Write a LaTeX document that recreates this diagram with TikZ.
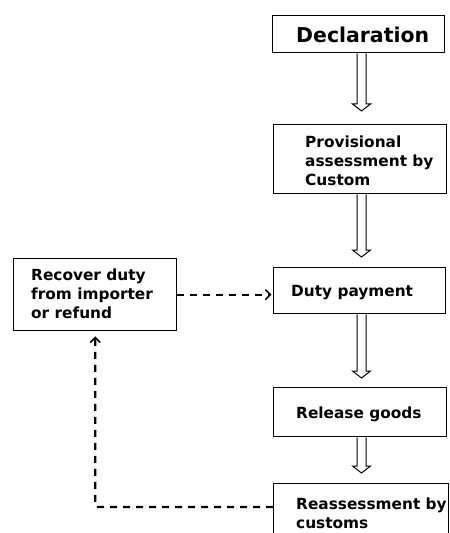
\documentclass[tikz,border=0pt]{standalone}
\usepackage{fontspec}
\setmainfont{DejaVu Sans}
\usetikzlibrary{arrows.meta,calc}
\begin{document}
\begin{tikzpicture}[x=1bp,y=-1bp,
  box/.style={draw, line width=1.4bp, inner sep=0pt, anchor=north west},
  txt/.style={inner sep=0pt, anchor=west, align=left,
    font=\bfseries\fontsize{15.4}{19}\selectfont},
  bigtxt/.style={inner sep=0pt, anchor=west,
    font=\bfseries\fontsize{20.5}{24}\selectfont},
  hollow/.style={line width=1bp, to path={
    ($(\tikztostart)+(-4.5,0)$) -- ($(\tikztotarget)+(-4.5,-7)$)
    -- ($(\tikztotarget)+(-9,-7)$) -- (\tikztotarget)
    -- ($(\tikztotarget)+(9,-7)$) -- ($(\tikztotarget)+(4.5,-7)$)
    -- ($(\tikztostart)+(4.5,0)$)}},
  dashline/.style={line width=2.4bp, dash pattern=on 7bp off 6bp},
  barb/.style={-{Straight Barb[length=5bp,width=10bp,line width=1.6bp]}}
]
\clip (0,0) rectangle (450,533);

% process column
\node[box, minimum width=172bp, minimum height=37bp] (dec)  at (272,15)  {};
\node[box, minimum width=173bp, minimum height=69bp] (prov) at (273,124) {};
\node[box, minimum width=172bp, minimum height=46bp] (duty) at (273,267) {};
\node[box, minimum width=173bp, minimum height=49bp] (rel)  at (273,387) {};
\node[box, minimum width=175bp, minimum height=70bp] (rea)  at (273,483) {};

% side box
\node[box, minimum width=163bp, minimum height=72bp] (rec) at (13,258) {};

% labels
\node[bigtxt] (tdec)  at ($(dec.west)+(24,1)$) {Declaration};
\node[txt]    (tprov) at ($(prov.west)+(32,1.5)$) {Provisional\\assessment by\\Custom};
\node[txt]    (tduty) at ($(duty.west)+(18,2)$) {Duty payment};
\node[txt]    (trel)  at ($(rel.west)+(23,2)$) {Release goods};
\node[txt]    (trea)  at ($(rea.north west)+(23,30)$) {Reassessment by\\customs};
\node[txt]    (trec)  at ($(rec.west)+(18,-1)$) {Recover duty\\from importer\\or refund};

% hollow arrows between the steps
\coordinate (ax) at (361.5,0);
\coordinate (a1s) at (dec.south -| ax);
\coordinate (a1e) at ($(prov.north -| ax)+(0,-13)$);
\coordinate (a2s) at (prov.south -| ax);
\coordinate (a2e) at ($(duty.north -| ax)+(0,-10)$);
\coordinate (a3s) at (duty.south -| ax);
\coordinate (a3e) at ($(rel.north -| ax)+(0,-9)$);
\coordinate (a4s) at (rel.south -| ax);
\coordinate (a4e) at ($(rea.north -| ax)+(0,-10)$);
\draw[hollow] (a1s) to (a1e);
\draw[hollow] (a2s) to (a2e);
\draw[hollow] (a3s) to (a3e);
\draw[hollow] (a4s) to (a4e);

% dashed feedback connectors
\draw[dashline, barb, shorten >=1.5bp] (rec.east) -- (rec.east -| duty.west);
\draw[dashline, barb, shorten >=5bp, rounded corners=2bp]
  ($(rea.north west)+(0,24)$) -| (rec.south);
\end{tikzpicture}
\end{document}
